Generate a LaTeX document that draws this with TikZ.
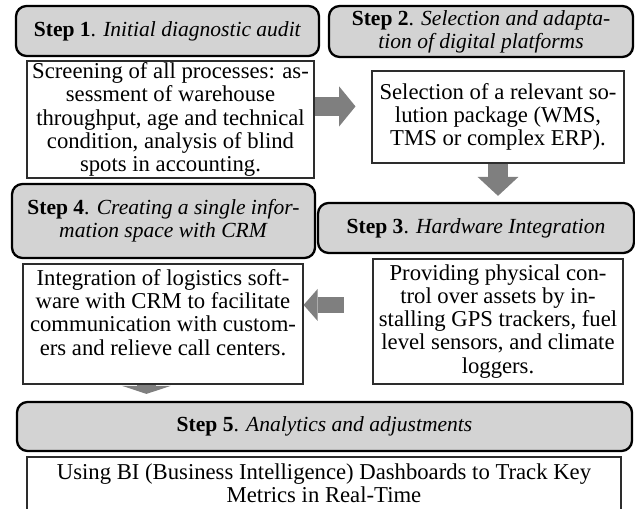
\documentclass[tikz,border=0pt]{standalone}
\usepackage{fontspec}
\setmainfont{Liberation Serif}
\usetikzlibrary{arrows.meta}
\definecolor{headgray}{RGB}{211, 211, 211}
\definecolor{arrowgray}{RGB}{127, 127, 127}
\definecolor{bodyline}{RGB}{45, 45, 45}

\begin{document}
\begin{tikzpicture}[x=0.52pt, y=-0.52pt,
  stephead/.style={draw=black, line width=1.2pt, fill=headgray, rounded corners=5.5pt, align=center, inner sep=1pt, font=\fontsize{11.2}{12}\selectfont},
  stepbody/.style={draw=bodyline, line width=0.6pt, fill=white, align=center, inner sep=1pt, font=\fontsize{11.8}{12}\selectfont},
  bigarrow/.style={draw=arrowgray, line width=9.9pt, -{Triangle[length=8.5pt, width=20.8pt, line width=0pt]}}]
  \useasboundingbox (0, 0) rectangle (635, 509);

  % Step 1
  \node[stephead, minimum width=157.6pt, minimum height=26pt] (head1) at (167.5, 31) {\textbf{Step 1}. \textit{Initial diagnostic audit}};
  \node[stepbody, minimum width=149.2pt, minimum height=59.8pt] (body1) at (170.5, 119.5) {Screening of all processes: as-\\sessment of warehouse\\throughput, age and technical\\condition, analysis of blind\\spots in accounting.};

  % Step 2
  \node[stephead, minimum width=158.1pt, minimum height=26.5pt] (head2) at (481, 31.5) {\textbf{Step 2}. \textit{Selection and adapta-}\\\textit{tion of digital platforms}};
  \node[stepbody, minimum width=131pt, minimum height=47.8pt] (body2) at (498, 117) {Selection of a relevant so-\\lution package (WMS,\\TMS or complex ERP).};

  % Step 3
  \node[stephead, minimum width=164.3pt, minimum height=26pt] (head3) at (476, 228) {\textbf{Step 3}. \textit{Hardware Integration}};
  \node[stepbody, minimum width=130pt, minimum height=65pt] (body3) at (498, 321.5) {Providing physical con-\\trol over assets by in-\\stalling GPS trackers, fuel\\level sensors, and climate\\loggers.};

  % Step 4
  \node[stephead, minimum width=157.6pt, minimum height=38.5pt] (head4) at (163.5, 221) {\textbf{Step 4}. \textit{Creating a single infor-}\\\textit{mation space with CRM}};
  \node[stepbody, minimum width=145.6pt, minimum height=62.4pt] (body4) at (163, 324) {Integration of logistics soft-\\ware with CRM to facilitate\\communication with custom-\\ers and relieve call centers.\\[0pt]};

  % Step 5
  \node[stephead, minimum width=319.8pt, minimum height=25.5pt] (head5) at (324.5, 426.5) {\textbf{Step 5}. \textit{Analytics and adjustments}};
  \node[stepbody, minimum width=308.9pt, minimum height=27.6pt] (body5) at (324, 483.5) {Using BI (Business Intelligence) Dashboards to Track Key\\Metrics in Real-Time};

  % Arrows between the steps
  \draw[bigarrow, shorten >=8.3pt] ([yshift=6.8pt]body1.east) -- ([yshift=6.8pt]body1.east -| body2.west);
  \draw[bigarrow, -{Triangle[length=9.9pt, width=21.3pt, line width=0pt]}, shorten >=3.1pt] (body2.south) -- (body2.south |- head3.north);
  \draw[bigarrow, line width=8.6pt, -{Triangle[length=7.3pt, width=16.6pt, line width=0pt]}, shorten <=15pt] ([yshift=8.6pt]body3.west) -- ([yshift=8.6pt]body3.west -| body4.east);
  \draw[bigarrow, -{Triangle[length=4.2pt, width=25.5pt, line width=0pt]}, shorten >=3.6pt] ([xshift=-8.6pt]body4.south) -- ([xshift=-8.6pt]body4.south |- head5.north);
\end{tikzpicture}
\end{document}
